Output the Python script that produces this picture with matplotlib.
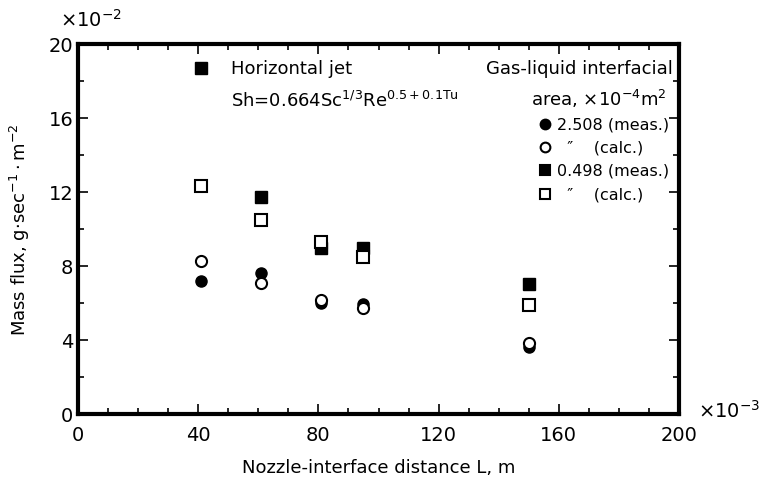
import matplotlib.pyplot as plt
from matplotlib.ticker import MultipleLocator

# Data (x: mm-ish units x1e-3 m, y: x1e-2)
L = [41, 61, 81, 95, 150]
meas_2508 = [7.2, 7.6, 6.0, 5.95, 3.6]
calc_2508 = [8.25, 7.1, 6.15, 5.75, 3.85]
meas_0498 = [None, 11.75, 9.0, 8.95, 7.05]
calc_0498 = [12.3, 10.5, 9.3, 8.5, 5.9]

plt.rcParams['font.family'] = ['DejaVu Sans']
plt.rcParams['mathtext.fontset'] = 'dejavusans'

fig = plt.figure(figsize=(7.62, 4.81), dpi=100)
ax = fig.add_axes([78 / 762, 66 / 481, 601 / 762, 370 / 481])

ms = 8
ax.plot(L, meas_2508, 'o', color='black', ms=ms, ls='none')
ax.plot(L, calc_2508, 'o', mfc='white', mec='black', mew=1.5, ms=ms, ls='none')
xs = [x for x, y in zip(L, meas_0498) if y is not None]
ys = [y for y in meas_0498 if y is not None]
ax.plot(xs, ys, 's', color='black', ms=ms, ls='none')
ax.plot(L, calc_0498, 's', mfc='white', mec='black', mew=1.5, ms=ms, ls='none')

ax.set_xlim(0, 200)
ax.set_ylim(0, 20)
ax.xaxis.set_major_locator(MultipleLocator(40))
ax.xaxis.set_minor_locator(MultipleLocator(10))
ax.yaxis.set_major_locator(MultipleLocator(4))
ax.yaxis.set_minor_locator(MultipleLocator(2))
ax.tick_params(which='both', direction='in', top=True, right=True,
               labelsize=14, width=1.2)
ax.tick_params(which='major', length=7)
ax.tick_params(which='minor', length=4)
for s in ax.spines.values():
    s.set_linewidth(3)
ax.tick_params(axis='x', pad=8)

ax.set_xlabel('Nozzle-interface distance L, m', fontsize=13, labelpad=10)
ax.set_ylabel(r'Mass flux, g$\cdot$sec$^{-1}\cdot$m$^{-2}$', fontsize=13, labelpad=12)

fig.text(60 / 762, 1 - 20 / 481, r'$\times$10$^{-2}$', fontsize=14, va='center')
fig.text(698 / 762, 1 - 411 / 481, r'$\times$10$^{-3}$', fontsize=14, va='center')

# in-plot annotation / legend
ax.plot([41], [18.7], 's', color='black', ms=ms)
ax.text(51, 18.7, 'Horizontal jet', fontsize=13, va='center')
ax.text(51, 17.0, r'Sh=0.664Sc$^{1/3}$Re$^{0.5+0.1\mathrm{Tu}}$', fontsize=13, va='center')
ax.text(198, 18.7, 'Gas-liquid interfacial', fontsize=13, va='center', ha='right')
ax.text(196, 17.1, r'area, $\times$10$^{-4}$m$^{2}$', fontsize=13, va='center', ha='right')

ly = [15.7, 14.45, 13.2, 11.9]
styles = [('o', 'black'), ('o', 'white'), ('s', 'black'), ('s', 'white')]
labels = ['2.508 (meas.)', '  \u2033    (calc.)', '0.498 (meas.)', '  \u2033    (calc.)']
for y, (m, fc), lab in zip(ly, styles, labels):
    ax.plot([155.5], [y], m, mfc=fc, mec='black', mew=1.5, ms=7)
    ax.text(159.5, y, lab, fontsize=11.5, va='center')

fig.savefig('out.png', dpi=100)
